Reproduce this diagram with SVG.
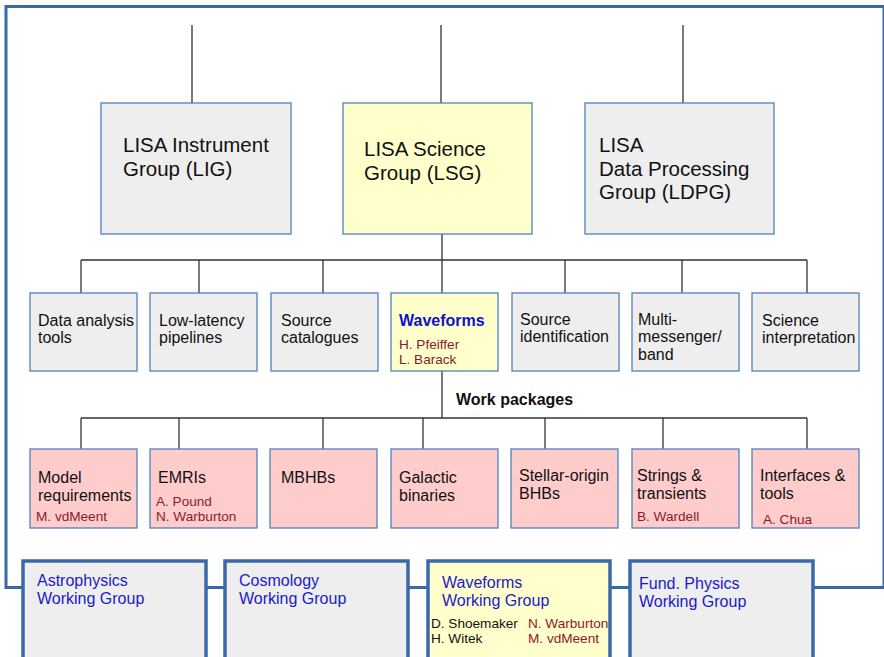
<svg xmlns="http://www.w3.org/2000/svg" width="884" height="657" viewBox="0 0 884 657">
<style>
text{font-family:"Liberation Sans",Arial,sans-serif;}
.top{fill:#eeeeee;stroke:#4f81bd;stroke-width:1.3;}
.yel{fill:#ffffcc;stroke:#4f81bd;stroke-width:1.3;}
.pink{fill:#ffcccc;stroke:#4f81bd;stroke-width:1.3;}
.wg{fill:#eeeeee;stroke:#3a69a8;stroke-width:3.5;}
.wgy{fill:#ffffcc;stroke:#3a69a8;stroke-width:3.5;}
.t20{font-size:20.5px;fill:#111;}
.t16{font-size:16px;fill:#111;}
.nm{font-size:13.6px;fill:#8b1a2e;}
.nb{font-size:13.6px;fill:#111;}
.bl{font-size:16px;fill:#1a1acc;}
.wb{font-size:16px;font-weight:bold;fill:#1010cc;}
.wp{font-size:16px;font-weight:bold;fill:#111;}
.ln{stroke:#333;stroke-width:1.3;fill:none;}
.frame{stroke:#3a69a8;stroke-width:3;fill:none;}
</style>
<rect width="884" height="657" fill="#ffffff"/>
<g id="connectors">
<path class="frame" d="M23,587.5 H6 V6.5 H884 V587.5 H813 M206,587.5 H225 M408,587.5 H428 M610,587.5 H630"/>
<path class="ln" d="M192,25 V103 M441,25 V103 M683,25 V103"/>
<path class="ln" d="M442,234 V260 M81,260 H807 M81,260 V293 M199,260 V293 M323,260 V293 M442,260 V293 M565,260 V293 M682,260 V293 M807,260 V293"/>
<path class="ln" d="M442,371 V418 M81,418 H807 M81,418 V449 M179,418 V449 M323,418 V449 M423,418 V449 M545,418 V449 M663,418 V449 M807,418 V449"/>
</g>
<g id="lig"><rect class="top" x="101" y="103" width="190" height="131"/>
<text class="t20" x="123" y="152">LISA Instrument</text><text class="t20" x="123" y="176">Group (LIG)</text></g>
<g id="lsg"><rect class="yel" x="343" y="103" width="189" height="131"/>
<text class="t20" x="364" y="156">LISA Science</text><text class="t20" x="364" y="180">Group (LSG)</text></g>
<g id="ldpg"><rect class="top" x="585" y="103" width="189" height="131"/>
<text class="t20" x="599" y="152">LISA</text><text class="t20" x="599" y="176">Data Processing</text><text class="t20" x="599" y="199">Group (LDPG)</text></g>

<g id="data-analysis"><rect class="top" x="30" y="293" width="107" height="78"/>
<text class="t16" x="38" y="326">Data analysis</text><text class="t16" x="38" y="343">tools</text></g>
<g id="low-latency"><rect class="top" x="150" y="293" width="107" height="78"/>
<text class="t16" x="159" y="326">Low-latency</text><text class="t16" x="159" y="343">pipelines</text></g>
<g id="source-catalogues"><rect class="top" x="271" y="293" width="107" height="78"/>
<text class="t16" x="281" y="326">Source</text><text class="t16" x="281" y="343">catalogues</text></g>
<g id="waveforms"><rect class="yel" x="391" y="293" width="107" height="78"/>
<text class="wb" x="399" y="326">Waveforms</text><text class="nm" x="399" y="349">H. Pfeiffer</text><text class="nm" x="399" y="364">L. Barack</text></g>
<g id="source-identification"><rect class="top" x="512" y="293" width="107" height="78"/>
<text class="t16" x="520" y="325">Source</text><text class="t16" x="520" y="342">identification</text></g>
<g id="multi-messenger"><rect class="top" x="632" y="293" width="107" height="78"/>
<text class="t16" x="638" y="325">Multi-</text><text class="t16" x="638" y="342">messenger/</text><text class="t16" x="638" y="360">band</text></g>
<g id="science-interpretation"><rect class="top" x="752" y="293" width="107" height="78"/>
<text class="t16" x="762" y="326">Science</text><text class="t16" x="762" y="343">interpretation</text></g>

<text class="wp" x="456" y="405">Work packages</text>

<g id="model-requirements"><rect class="pink" x="30" y="449" width="107" height="79"/>
<text class="t16" x="38" y="483">Model</text><text class="t16" x="38" y="501">requirements</text><text class="nm" x="36" y="521">M. vdMeent</text></g>
<g id="emris"><rect class="pink" x="150" y="449" width="107" height="79"/>
<text class="t16" x="158" y="483">EMRIs</text><text class="nm" x="156" y="506">A. Pound</text><text class="nm" x="156" y="521">N. Warburton</text></g>
<g id="mbhbs"><rect class="pink" x="270" y="449" width="107" height="79"/>
<text class="t16" x="281" y="483">MBHBs</text></g>
<g id="galactic-binaries"><rect class="pink" x="391" y="449" width="107" height="79"/>
<text class="t16" x="399" y="483">Galactic</text><text class="t16" x="399" y="501">binaries</text></g>
<g id="stellar-origin"><rect class="pink" x="511" y="449" width="107" height="79"/>
<text class="t16" x="519" y="481">Stellar-origin</text><text class="t16" x="519" y="499">BHBs</text></g>
<g id="strings"><rect class="pink" x="632" y="449" width="107" height="79"/>
<text class="t16" x="637" y="481">Strings &amp;</text><text class="t16" x="637" y="499">transients</text><text class="nm" x="637" y="521">B. Wardell</text></g>
<g id="interfaces"><rect class="pink" x="752" y="449" width="107" height="79"/>
<text class="t16" x="760" y="481">Interfaces &amp;</text><text class="t16" x="760" y="499">tools</text><text class="nm" x="763" y="524">A. Chua</text></g>

<g id="astro-wg"><rect class="wg" x="23" y="561" width="183" height="110"/>
<text class="bl" x="37" y="586">Astrophysics</text><text class="bl" x="37" y="604">Working Group</text></g>
<g id="cosmo-wg"><rect class="wg" x="225" y="561" width="183" height="110"/>
<text class="bl" x="239" y="586">Cosmology</text><text class="bl" x="239" y="604">Working Group</text></g>
<g id="waveforms-wg"><rect class="wgy" x="428" y="561" width="182" height="110"/>
<text class="bl" x="442" y="588">Waveforms</text><text class="bl" x="442" y="606">Working Group</text>
<text class="nb" x="431" y="628">D. Shoemaker</text><text class="nb" x="431" y="643">H. Witek</text>
<text class="nm" x="528" y="628">N. Warburton</text><text class="nm" x="528" y="643">M. vdMeent</text></g>
<g id="fund-wg"><rect class="wg" x="630" y="561" width="183" height="110"/>
<text class="bl" x="639" y="589">Fund. Physics</text><text class="bl" x="639" y="607">Working Group</text></g>
</svg>
